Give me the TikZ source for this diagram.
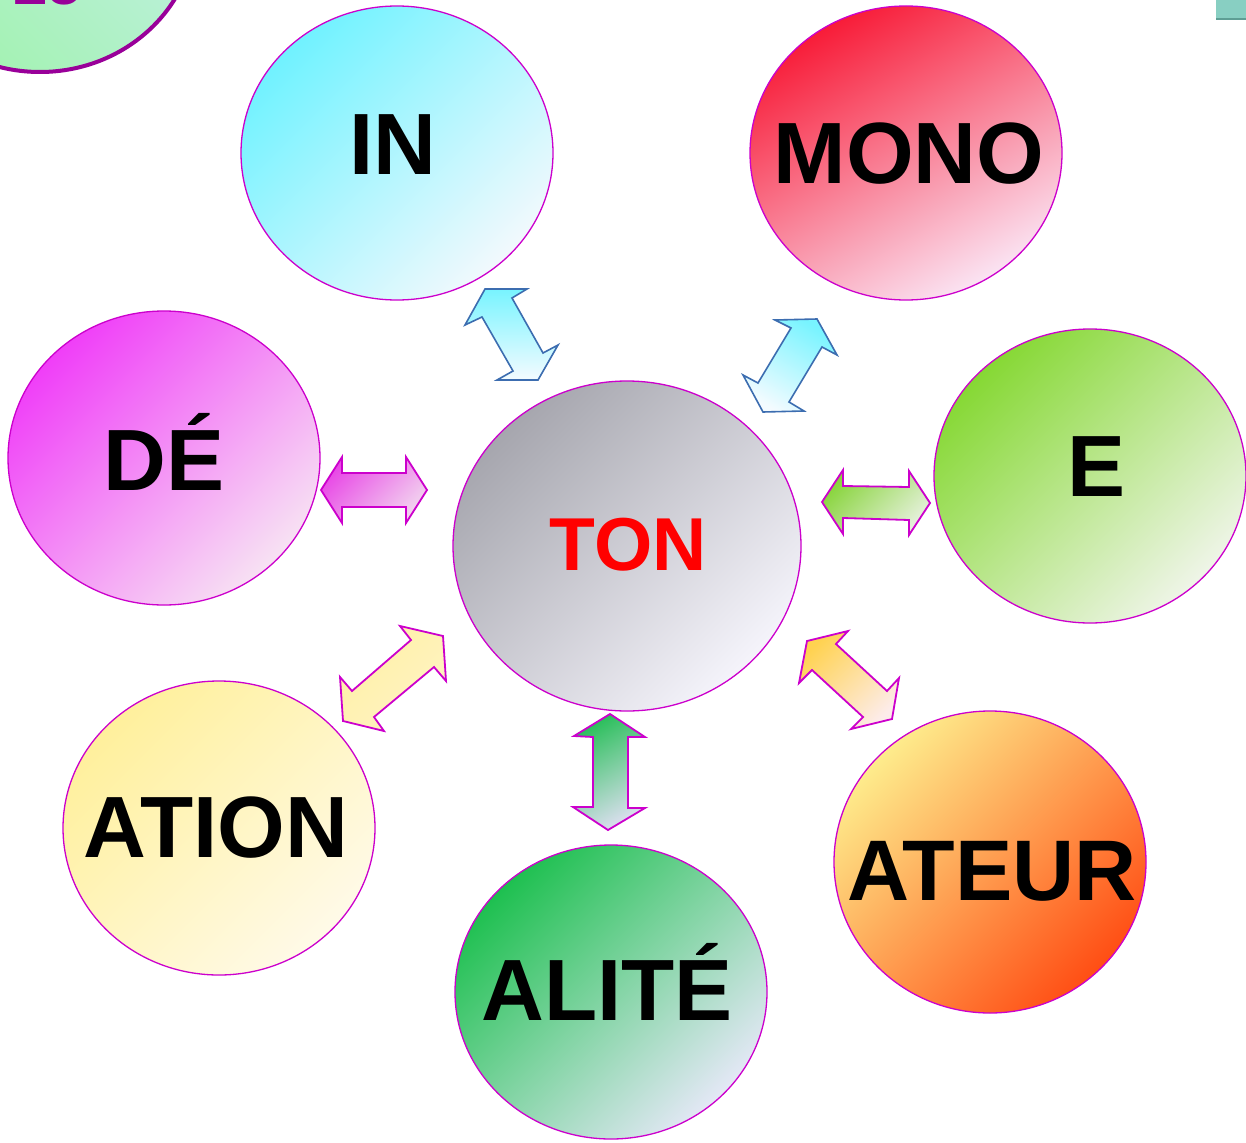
\documentclass[tikz,border=0pt]{standalone}
\usepackage{fontspec}
\setmainfont{Liberation Sans}
\usetikzlibrary{shapes.geometric}
\definecolor{bord}{HTML}{CC00CC}
\definecolor{prevbord}{HTML}{990099}
\definecolor{arrblue}{HTML}{3C6DB0}
\definecolor{prevA}{HTML}{C4F0E8}\definecolor{prevB}{HTML}{A2F2B0}
\definecolor{sqfill}{HTML}{88CFC2}\definecolor{sqline}{HTML}{5E9E94}
\definecolor{inA}{HTML}{70F2FF}\definecolor{inB}{HTML}{F2F9FD}
\definecolor{monoA}{HTML}{F81C38}\definecolor{monoM}{HTML}{F07CA8}\definecolor{monoB}{HTML}{FAE4F3}
\definecolor{deA}{HTML}{F03EF8}\definecolor{deM}{HTML}{E282E2}\definecolor{deB}{HTML}{F7E2F3}
\definecolor{eA}{HTML}{86D834}\definecolor{eM}{HTML}{AEDC82}\definecolor{eB}{HTML}{EFF5E8}
\definecolor{tonA}{HTML}{A6A6AE}\definecolor{tonM}{HTML}{CDCDD9}\definecolor{tonB}{HTML}{F5F4FB}
\definecolor{atA}{HTML}{FFF09C}\definecolor{atM}{HTML}{FFF4C0}\definecolor{atB}{HTML}{FFFAE8}
\definecolor{alA}{HTML}{1EC050}\definecolor{alM}{HTML}{76BCA0}\definecolor{alB}{HTML}{E4E8F6}
\definecolor{teA}{HTML}{FEEC8C}\definecolor{teM}{HTML}{FDAC62}\definecolor{teB}{HTML}{FF4E14}
\definecolor{arcA}{HTML}{78F4FF}\definecolor{arcB}{HTML}{F4FBFF}
\definecolor{armA}{HTML}{E848E6}\definecolor{armB}{HTML}{F2D4EF}
\definecolor{argA}{HTML}{88D43C}\definecolor{argB}{HTML}{E6F1DC}
\definecolor{aralA}{HTML}{2CBF5C}\definecolor{aralB}{HTML}{DADFEE}
\definecolor{aryA}{HTML}{FFF0A6}\definecolor{aryB}{HTML}{FFF4C4}
\definecolor{aroA}{HTML}{FFD250}\definecolor{aroB}{HTML}{FDECEA}
\begin{document}
\begin{tikzpicture}[x=1pt,y=-1pt,
  bubble/.style={ellipse, inner sep=0pt, outer sep=0pt, draw=bord, line width=1.3pt,
    minimum width=312pt, minimum height=294pt},
  big/.style={inner sep=0pt, anchor=base, font=\bfseries\fontsize{87}{87}\selectfont},
  blockm/.style={draw=bord, line width=1.8pt, line join=miter},
  blockb/.style={draw=arrblue, line width=1.6pt, line join=miter}]
\useasboundingbox (0,0) rectangle (1246,1142);
\fill[white] (0,0) rectangle (1246,1142);

% partial bubble top-left
\node[bubble, draw=prevbord, line width=4pt, top color=prevA, bottom color=prevB, shading angle=-45] (prev) at (40,-75) {};
\node[inner sep=0pt, anchor=base, text=prevbord, font=\bfseries\fontsize{62}{62}\selectfont] (prevnum) at (48,5) {25};
% small square top right
\fill[sqfill] (1216,0) rectangle (1246,19);
\draw[sqline, line width=1.2pt] (1216,19) -- (1246,19);

% bubbles
\node[bubble, top color=inA, bottom color=inB, shading angle=45] (in) at (397,153) {};
\node[bubble, top color=monoA, middle color=monoM, bottom color=monoB, shading angle=30] (mono) at (906,153) {};
\node[bubble, top color=deA, middle color=deM, bottom color=deB, shading angle=45] (de) at (164,458) {};
\node[bubble, top color=eA, middle color=eM, bottom color=eB, shading angle=45] (e) at (1090,476) {};
\node[bubble, minimum width=348pt, minimum height=330pt, top color=tonA, middle color=tonM, bottom color=tonB, shading angle=45] (ton) at (627,546) {};
\node[bubble, top color=atA, middle color=atM, bottom color=atB, shading angle=45] (ation) at (219,828) {};
\node[bubble, top color=alA, middle color=alM, bottom color=alB, shading angle=45] (alite) at (611,992) {};
\node[bubble, minimum height=302pt, top color=teA, middle color=teM, bottom color=teB, shading angle=45] (ateur) at (990,862) {};

% labels
\node[big] (tin) at (393,175) {IN};
\node[big] (tmono) at (909,183) {MONO};
\node[big] (tde) at (164,490) {DÉ};
\node[big] (te) at (1096,496) {E};
\node[big, text=red, font=\bfseries\fontsize{75}{75}\selectfont] (tton) at (628,570) {TON};
\node[big] (tation) at (216,857) {ATION};
\node[big] (talite) at (607,1020) {ALITÉ};
\node[big, font=\bfseries\fontsize{86}{86}\selectfont] (tateur) at (992,900) {ATEUR};

% block arrows
\shade[blockb, top color=arcA, bottom color=arcB]
  (485,289) -- (527,289) -- (512,298) -- (543,353) -- (558,345) -- (538,380)
  -- (497,380) -- (513,371) -- (482,317) -- (465,325) -- cycle;
\shade[blockb, top color=arcA, bottom color=arcB, shading angle=-30]
  (775,320) -- (817,319) -- (837,355) -- (822,347) -- (789,402) -- (804,411)
  -- (763,412) -- (743,375) -- (758,383) -- (791,328) -- cycle;
\shade[blockm, top color=armA, bottom color=armB, shading angle=45]
  (321,490) -- (342,457) -- (342,473) -- (406,473) -- (406,457) -- (427,490)
  -- (406,523) -- (406,507) -- (342,507) -- (342,523) -- cycle;
\shade[blockm, top color=argA, bottom color=argB, shading angle=45]
  (822,502) -- (843,470) -- (843,486) -- (909,487) -- (909,471) -- (930,503)
  -- (909,535) -- (909,520) -- (843,518) -- (843,534) -- cycle;
\shade[blockm, top color=aralA, bottom color=aralB, shading angle=30]
  (610,714) -- (645,737) -- (628,737) -- (628,808) -- (645,808) -- (608,830)
  -- (573,807) -- (593,807) -- (593,737) -- (574,736) -- cycle;
\shade[blockm, top color=aryA, bottom color=aryB, shading angle=45]
  (400,626) -- (443,636) -- (446,681) -- (434,667) -- (374,717) -- (384,731)
  -- (343,721) -- (340,677) -- (352,691) -- (411,640) -- cycle;
\shade[blockm, top color=aroA, bottom color=aroB, shading angle=45]
  (807,641) -- (848,631) -- (836,644) -- (887,691) -- (899,678) -- (892,719)
  -- (851,729) -- (863,717) -- (812,670) -- (799,683) -- cycle;
\end{tikzpicture}
\end{document}
